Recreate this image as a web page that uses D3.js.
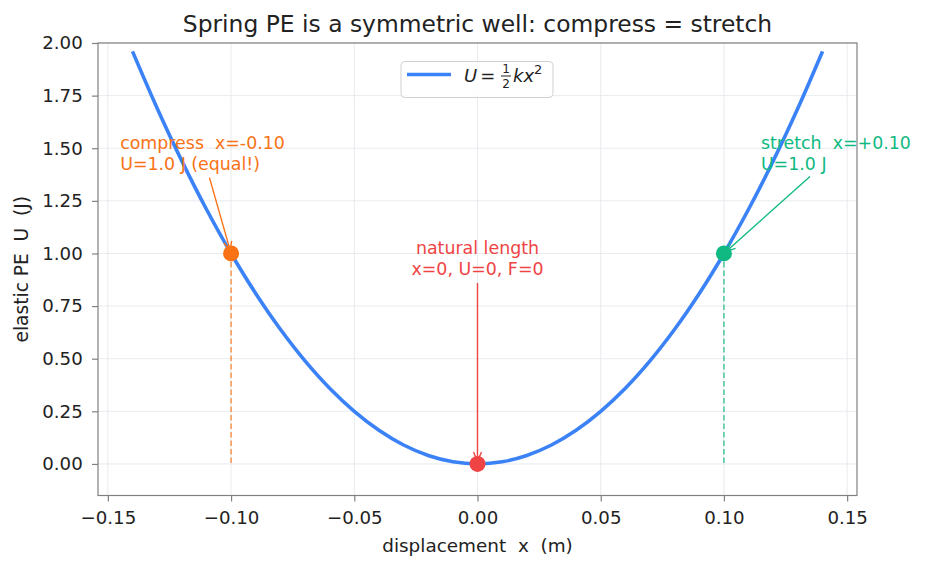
<!DOCTYPE html>
<html><head><meta charset="utf-8">
<script src="https://cdn.jsdelivr.net/npm/d3@7"></script>
<style>
html,body{margin:0;padding:0;background:#fff;}
text{font-family:"DejaVu Sans",sans-serif;white-space:pre;}
</style></head>
<body><svg id="c" width="926" height="569"></svg>
<script>
// ---- data ----
const curveX = [-0.14,-0.13,-0.12,-0.11,-0.10,-0.09,-0.08,-0.07,-0.06,-0.05,-0.04,-0.03,-0.02,-0.01,0.00,0.01,0.02,0.03,0.04,0.05,0.06,0.07,0.08,0.09,0.10,0.11,0.12,0.13,0.14];
const curveU = [1.96,1.69,1.44,1.21,1.00,0.81,0.64,0.49,0.36,0.25,0.16,0.09,0.04,0.01,0.00,0.01,0.04,0.09,0.16,0.25,0.36,0.49,0.64,0.81,1.00,1.21,1.44,1.69,1.96];
const pointNames = ["compress","natural","stretch"];
const pointX = [-0.10, 0.00, 0.10];
const pointU = [1.0, 0.0, 1.0];
const pointColors = ["#f97316","#ef4444","#10b981"];
const pointLines = [["compress  x=-0.10","U=1.0 J (equal!)"],["natural length","x=0, U=0, F=0"],["stretch  x=+0.10","U=1.0 J"]];
const labelX = [-0.145, 0.0, 0.115];
const labelY = [1.40, 0.90, 1.40];
const labelAnchor = ["start","middle","start"];
const xTicks = [-0.15,-0.10,-0.05,0.00,0.05,0.10,0.15];
const yTicks = [0.00,0.25,0.50,0.75,1.00,1.25,1.50,1.75,2.00];
const xDomain = [-0.154, 0.154];
const yDomain = [-0.15, 2.0];
const titleText = "Spring PE is a symmetric well: compress = stretch";
const xLabel = "displacement  x  (m)";
const yLabel = "elastic PE  U  (J)";

// ---- layout ----
const L = 98, R = 857, T = 43, B = 495.5;
const svg = d3.select("#c");
const x = d3.scaleLinear().domain(xDomain).range([L, R]);
const y = d3.scaleLinear().domain(yDomain).range([B, T]);
const fmt = v => (v < 0 ? "\u2212" : "") + Math.abs(v).toFixed(2);

// grid
const grid = svg.append("g");
grid.selectAll(".gx").data(xTicks).join("line")
  .attr("x1", d => x(d)).attr("x2", d => x(d)).attr("y1", T).attr("y2", B)
  .attr("stroke", "#e3e6eb").attr("stroke-width", 0.8);
grid.selectAll(".gy").data(yTicks).join("line")
  .attr("y1", d => y(d)).attr("y2", d => y(d)).attr("x1", L).attr("x2", R)
  .attr("stroke", "#e3e6eb").attr("stroke-width", 0.8);

// axes
const xAxis = svg.append("g").attr("transform", `translate(0,${B})`)
  .call(d3.axisBottom(x).tickValues(xTicks).tickFormat(fmt).tickSize(6).tickPadding(10));
const yAxis = svg.append("g").attr("transform", `translate(${L},0)`)
  .call(d3.axisLeft(y).tickValues(yTicks).tickFormat(fmt).tickSize(6).tickPadding(9.3));
[xAxis, yAxis].forEach(a => {
  a.select(".domain").remove();
  a.selectAll(".tick line").attr("stroke", "#808080").attr("stroke-width", 1.2);
  a.selectAll(".tick text").attr("fill", "#222").style("font-size", "18.2px")
    .style("font-family", "DejaVu Sans");
});
// spines
svg.append("rect").attr("x", L).attr("y", T).attr("width", R - L).attr("height", B - T)
  .attr("fill", "none").attr("stroke", "#808080").attr("stroke-width", 1.2);

// clip
svg.append("clipPath").attr("id", "clip").append("rect")
  .attr("x", L).attr("y", T).attr("width", R - L).attr("height", B - T);
const plot = svg.append("g").attr("clip-path", "url(#clip)");

// dashed drop lines
plot.selectAll(".drop").data(d3.range(pointX.length).filter(i => pointU[i] > 0)).join("line")
  .attr("x1", i => x(pointX[i])).attr("x2", i => x(pointX[i]))
  .attr("y1", i => y(pointU[i])).attr("y2", y(0))
  .attr("stroke", i => pointColors[i]).attr("stroke-width", 1.5)
  .attr("stroke-dasharray", "5.5,3").attr("opacity", 0.75);

// curve
const pts = curveX.map((v, i) => [v, curveU[i]]);
plot.append("path").datum(pts)
  .attr("d", d3.line().x(d => x(d[0])).y(d => y(d[1])).curve(d3.curveCatmullRom.alpha(0.5)))
  .attr("fill", "none").attr("stroke", "#3b82f6").attr("stroke-width", 3.6);

// points
svg.selectAll(".pt").data(d3.range(pointX.length)).join("circle")
  .attr("cx", i => x(pointX[i])).attr("cy", i => y(pointU[i])).attr("r", 8)
  .attr("fill", i => pointColors[i]);

// annotations
const lh = 21;
d3.range(pointX.length).forEach(i => {
  const tx = x(labelX[i]), base = y(labelY[i]) + 0.5;
  const g = svg.append("g");
  const t = g.append("text").attr("text-anchor", labelAnchor[i])
    .attr("fill", pointColors[i]).style("font-size", "17.4px");
  pointLines[i].forEach((s, k) => {
    t.append("tspan").attr("x", tx).attr("y", base - (pointLines[i].length - 1 - k) * lh).text(s);
  });
  const bb = t.node().getBBox();
  const cx = bb.x + bb.width / 2, cy = bb.y + bb.height / 2;
  const px = x(pointX[i]), py = y(pointU[i]);
  const dx = px - cx, dy = py - cy;
  let tt = Infinity;
  if (dy !== 0) tt = Math.min(tt, (bb.height / 2) / Math.abs(dy));
  if (dx !== 0) tt = Math.min(tt, (bb.width / 2) / Math.abs(dx));
  const len = Math.hypot(dx, dy);
  const ux = dx / len, uy = dy / len;
  const sx = cx + dx * tt + ux * 4, sy = cy + dy * tt + uy * 4;
  const ex = px - ux * 3, ey = py - uy * 3;
  g.append("line").attr("x1", sx).attr("y1", sy).attr("x2", ex).attr("y2", ey)
    .attr("stroke", pointColors[i]).attr("stroke-width", 1.4);
  const hl = 9, hw = 4;
  const bx = ex - ux * hl, by = ey - uy * hl;
  g.append("path")
    .attr("d", `M${bx - uy * hw},${by + ux * hw}L${ex},${ey}L${bx + uy * hw},${by - ux * hw}`)
    .attr("fill", "none").attr("stroke", pointColors[i]).attr("stroke-width", 1.4);
});

// legend
const lg = svg.append("g");
lg.append("rect").attr("x", 401).attr("y", 61.5).attr("width", 152).attr("height", 36).attr("rx", 4)
  .attr("fill", "#fff").attr("fill-opacity", 0.85).attr("stroke", "#d0d0d0").attr("stroke-width", 1);
lg.append("line").attr("x1", 407).attr("x2", 451).attr("y1", 74.5).attr("y2", 74.5)
  .attr("stroke", "#3b82f6").attr("stroke-width", 3.6);
const lt = lg.append("text").attr("y", 82).attr("fill", "#222").style("font-size", "18px");
lt.append("tspan").attr("x", 464).style("font-style", "italic").text("U");
lt.append("tspan").attr("dx", 3).text("=");
lg.append("text").attr("x", 506).attr("y", 73).attr("text-anchor", "middle").style("font-size", "12px").attr("fill", "#222").text("1");
lg.append("line").attr("x1", 501).attr("x2", 511).attr("y1", 76).attr("y2", 76).attr("stroke", "#222").attr("stroke-width", 1);
lg.append("text").attr("x", 506).attr("y", 88).attr("text-anchor", "middle").style("font-size", "12px").attr("fill", "#222").text("2");
const lt2 = lg.append("text").attr("x", 513).attr("y", 82).attr("fill", "#222").style("font-size", "18px");
lt2.append("tspan").style("font-style", "italic").text("kx");
lt2.append("tspan").attr("dy", -8).style("font-size", "13px").text("2");

// title and labels
svg.append("text").attr("x", (L + R) / 2).attr("y", 31.5).attr("text-anchor", "middle")
  .attr("fill", "#222").style("font-size", "23.4px").text(titleText);
svg.append("text").attr("x", (L + R) / 2).attr("y", 552).attr("text-anchor", "middle")
  .attr("fill", "#222").style("font-size", "18.4px").text(xLabel);
svg.append("text").attr("transform", `translate(28,${(T + B) / 2}) rotate(-90)`).attr("text-anchor", "middle")
  .attr("fill", "#222").style("font-size", "18.6px").text(yLabel);
</script></body></html>
